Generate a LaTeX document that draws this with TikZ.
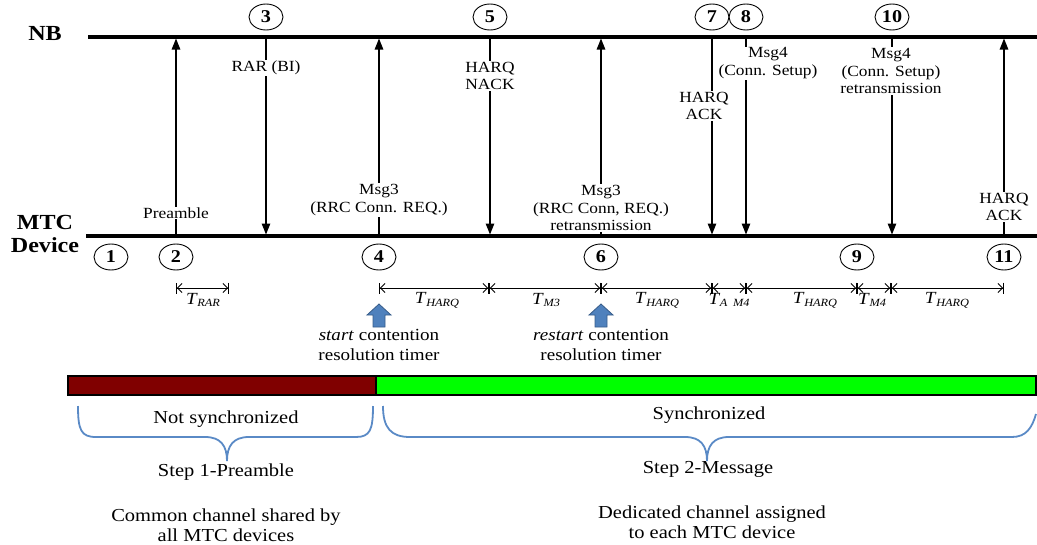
\documentclass[tikz,border=0pt]{standalone}
\usepackage{fontspec}
\setmainfont{Liberation Serif}[FakeStretch=1.12]
\usetikzlibrary{arrows.meta,shapes.geometric}

\definecolor{timerblue}{HTML}{4F81BD}
\definecolor{timeredge}{HTML}{385D8A}
\definecolor{bracecol}{HTML}{5A8AC6}
\definecolor{unsync}{HTML}{800000}
\definecolor{syncgreen}{HTML}{00FF00}

% duration label: italic T with a small italic subscript
\newcommand\Tdur[1]{\textit{T}\kern-0.3pt\raisebox{-2.8pt}{\fontsize{11}{11}\selectfont\textit{#1}}}

\tikzset{
  lifeline/.style={line width=3.5pt},
  msg/.style={line width=1.2pt,-{Triangle[length=11pt,width=8.5pt]}},
  lbl/.style={fill=white,inner sep=1pt,align=center,font=\fontsize{15.5}{17.5}\selectfont},
  stepnum/.style={ellipse,draw,line width=0.9pt,minimum width=34pt,minimum height=26pt,
    inner sep=0pt,font=\bfseries\fontsize{18}{18}\selectfont},
  span/.style={line width=0.9pt,
    {Bar[width=11pt]Straight Barb[length=4.5pt,width=9pt]}-{Straight Barb[length=4.5pt,width=9pt]Bar[width=11pt]}},
  tlab/.style={inner sep=0pt,font=\fontsize{17}{17}\selectfont},
  timer/.style={align=center,inner sep=0pt,font=\fontsize{17}{19.5}\selectfont},
  bottomtxt/.style={align=center,inner sep=0pt,font=\fontsize{18.3}{19.5}\selectfont},
  entity/.style={align=center,inner sep=0pt,font=\bfseries\fontsize{21.5}{23}\selectfont},
  brace/.style={draw=bracecol,line width=1.8pt},
  blockarrow/.style={fill=timerblue,draw=timeredge,line width=0.8pt,line join=miter},
}

\begin{document}
\begin{tikzpicture}[x=1pt,y=-1pt]
\useasboundingbox (0,0) rectangle (1037,544);

% entities and their lifelines
\node[entity] (nb) at (45,33) {NB};
\node[entity] (mtc) at (45,234) {MTC\\Device};
\coordinate (nbL) at (88,37);  \coordinate (nbR) at (1037,37);
\coordinate (mtL) at (86,236); \coordinate (mtR) at (1037,236);
\draw[lifeline] (nbL) -- (nbR);
\draw[lifeline] (mtL) -- (mtR);

% message end points on the two lifelines
\foreach \k/\x in {2/176,3/266,4/379,5/490,6/601,7/712,8/746,10/892,11/1004}{
  \coordinate (n\k) at (\x,38.5);
  \coordinate (m\k) at (\x,234.5);
}

% messages
\draw[msg] (m2) -- (n2);
\draw[msg] (n3) -- (m3);
\draw[msg] (m4) -- (n4);
\draw[msg] (n5) -- (m5);
\draw[msg] (m6) -- (n6);
\draw[msg] (n7) -- (m7);
\draw[msg] (n8) -- (m8);
\draw[msg] (n10) -- (m10);
\draw[msg] (m11) -- (n11);

% message labels
\node[lbl] (lPre)  at (176,213) {Preamble};
\node[lbl] (lRar)  at (266,68)  {RAR (BI)};
\node[lbl] (lM3)   at (379,200) {Msg3\\(RRC Conn. REQ.)};
\node[lbl] (lNack) at (490,76)  {HARQ\\NACK};
\node[lbl] (lM3r)  at (601,208) {Msg3\\(RRC Conn, REQ.)\\retransmission};
\node[lbl] (lAck)  at (704,106) {HARQ\\ACK};
\node[lbl] (lM4)   at (768,63)  {Msg4\\(Conn. Setup)};
\node[lbl] (lM4r)  at (891,71)  {Msg4\\(Conn. Setup)\\retransmission};
\node[lbl] (lAck2) at (1004,207) {HARQ\\ACK};

% step numbers
\node[stepnum] (c1)  at (111,257) {1};
\node[stepnum] (c2)  at (176,257) {2};
\node[stepnum] (c3)  at (266,17)  {3};
\node[stepnum] (c4)  at (379,257) {4};
\node[stepnum] (c5)  at (490,17)  {5};
\node[stepnum] (c6)  at (601,257) {6};
\node[stepnum] (c7)  at (712,17)  {7};
\node[stepnum] (c8)  at (746,17)  {8};
\node[stepnum] (c9)  at (857,257) {9};
\node[stepnum] (c10) at (892,17)  {10};
\node[stepnum] (c11) at (1004,257) {11};

% durations
\foreach \k/\x in {r1/176,r2/229,4/379,5/489,6/601,7/712,8/746,9/857,10/891,11/1004}{
  \coordinate (t\k) at (\x,288);
}
\draw[span] (tr1) -- (tr2);
\draw[span] (t4) -- (t5);
\draw[span] (t5) -- (t6);
\draw[span] (t6) -- (t7);
\draw[span] (t7) -- (t8);
\draw[span] (t8) -- (t9);
\draw[span] (t9) -- (t10);
\draw[span] (t10) -- (t11);

\node[tlab] (dRar)  at (203,300) {\Tdur{RAR}};
\node[tlab] (dH1)   at (437,300) {\Tdur{HARQ}};
\node[tlab] (dM3)   at (546,300) {\Tdur{M3}};
\node[tlab] (dH2)   at (657,300) {\Tdur{HARQ}};
\node[tlab] (dAM4)  at (729,300) {\Tdur{A\,\,\,M4}};
\node[tlab] (dH3)   at (815,300) {\Tdur{HARQ}};
\node[tlab] (dM4)   at (872,300) {\Tdur{M4}};
\node[tlab] (dH4)   at (947,300) {\Tdur{HARQ}};

% contention resolution timer marks
\foreach \p in {t4,t6}{
  \draw[blockarrow,shift={(\p)}] (-6,39) -- (-6,27) -- (-12,27) -- (0,16) -- (12,27) -- (6,27) -- (6,39) -- cycle;
}
\node[timer] (tm1) at (379,345) {\textit{start} contention\\resolution timer};
\node[timer] (tm2) at (601,345) {\textit{restart} contention\\resolution timer};

% synchronisation state bar
\fill[unsync] (68,376) rectangle (376,395);
\fill[syncgreen] (376,376) rectangle (1036,395);
\draw[line width=1.2pt] (68,376) rectangle (1036,395);
\draw[line width=1.2pt] (376,376) -- (376,395);

% phases
\node[bottomtxt] (ns) at (226,419) {Not synchronized};
\node[bottomtxt] (sy) at (709,415) {Synchronized};
\draw[brace] (78,406) .. controls (78,430) and (81,437) .. (96,437) -- (205,437)
  .. controls (221,437) and (227,446) .. (227,461)
  .. controls (227,446) and (233,437) .. (249,437) -- (356,437)
  .. controls (370,437) and (373,430) .. (373,406);
\draw[brace] (383,406) .. controls (383,428) and (391,437) .. (410,437) -- (685,437)
  .. controls (701,437) and (707,446) .. (707,461)
  .. controls (707,446) and (713,437) .. (729,437) -- (1012,437)
  .. controls (1026,437) and (1032,428) .. (1036,414);
\node[bottomtxt] (s1) at (226,472) {Step 1-Preamble};
\node[bottomtxt] (s2) at (708,469) {Step 2-Message};
\node[bottomtxt] (cc) at (226,525) {Common channel shared by\\all MTC devices};
\node[bottomtxt] (dc) at (712,522) {Dedicated channel assigned\\to each MTC device};
\end{tikzpicture}
\end{document}
